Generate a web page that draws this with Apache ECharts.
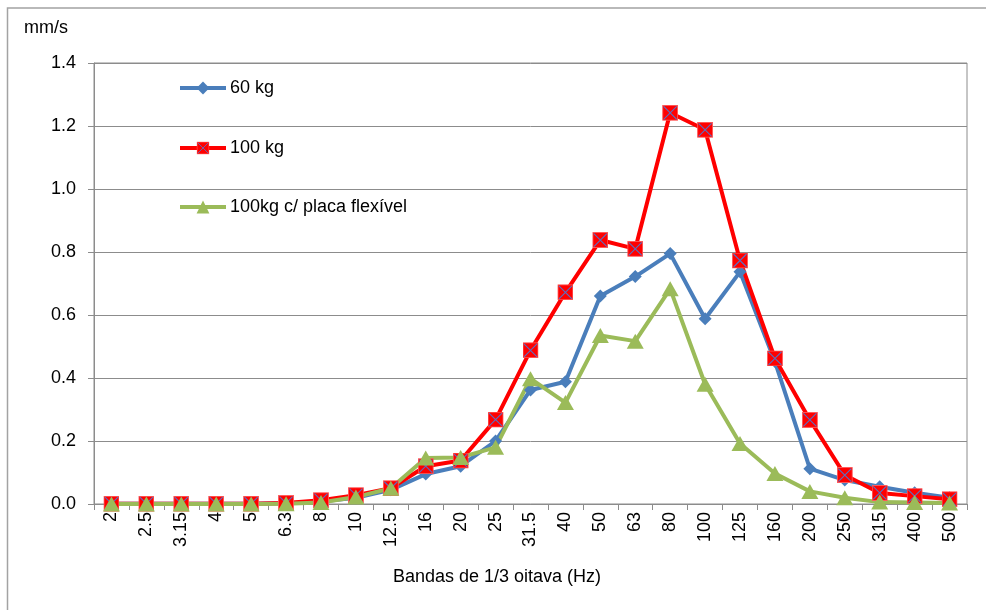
<!DOCTYPE html>
<html>
<head>
<meta charset="utf-8">
<script src="https://cdn.jsdelivr.net/npm/echarts@6/dist/echarts.min.js"></script>
<style>
  html, body { margin: 0; padding: 0; background: #ffffff; }
  #chart { width: 986px; height: 610px; }
</style>
</head>
<body>
<div id="chart"></div>
<script>
// 1/3-octave band centre frequencies (Hz)
const bands = ['2', '2.5', '3.15', '4', '5', '6.3', '8', '10', '12.5', '16', '20', '25', '31.5', '40', '50', '63', '80', '100', '125', '160', '200', '250', '315', '400', '500'];

// Vibration velocity (mm/s) per band
const vel60kg = [0.001, 0.001, 0.001, 0.001, 0.001, 0.002, 0.008, 0.02, 0.045, 0.095, 0.12, 0.2, 0.362, 0.388, 0.66, 0.722, 0.795, 0.588, 0.737, 0.452, 0.112, 0.076, 0.055, 0.036, 0.02];
const vel100kg = [0.001, 0.001, 0.001, 0.001, 0.001, 0.003, 0.012, 0.028, 0.05, 0.12, 0.138, 0.268, 0.488, 0.672, 0.838, 0.81, 1.242, 1.188, 0.773, 0.462, 0.267, 0.092, 0.035, 0.025, 0.015];
const vel100kgPlaca = [0, 0, 0, 0, 0, 0.001, 0.005, 0.022, 0.05, 0.146, 0.148, 0.18, 0.398, 0.322, 0.535, 0.517, 0.683, 0.38, 0.192, 0.097, 0.04, 0.02, 0.006, 0.005, 0.003];

const seriesNames = ['60 kg', '100 kg', '100kg c/ placa flexível'];
const yTicks = { min: 0, max: 1.4, step: 0.2 };

const FONT = "'Liberation Sans', Arial, sans-serif";
const GRID_GRAY = '#8c8c8c';
const LINE_W = 4;

// red square marker crossed by a thin blue X
const squareX = 'image://data:image/svg+xml;utf8,' + encodeURIComponent(
  '<svg xmlns="http://www.w3.org/2000/svg" width="32" height="32" viewBox="0 0 32 32">' +
  '<rect x="1" y="1" width="30" height="30" fill="#ff0000" stroke="#ff5a5a" stroke-width="2"/>' +
  '<path d="M3 3 L29 29 M29 3 L3 29" stroke="#5b6fc0" stroke-width="2.2"/>' +
  '</svg>');

const chart = echarts.init(document.getElementById('chart'), null, { renderer: 'canvas' });

function legendAt(name, top) {
  return {
    data: [name],
    left: 178,
    top: top,
    padding: 0,
    itemWidth: 46,
    itemHeight: 16,
    itemGap: 0,
    selectedMode: false,
    lineStyle: { width: LINE_W },
    textStyle: { fontFamily: FONT, fontSize: 18, color: '#000', padding: [0, 0, 0, -1], lineHeight: 16 }
  };
}

chart.setOption({
  animation: false,
  backgroundColor: '#ffffff',
  grid: {
    left: 94, right: 19, top: 63, bottom: 106,
    show: true, borderColor: GRID_GRAY, borderWidth: 1, backgroundColor: 'transparent'
  },
  legend: [
    legendAt(seriesNames[0], 79),
    legendAt(seriesNames[1], 139),
    legendAt(seriesNames[2], 198)
  ],
  graphic: [
    {
      type: 'rect', silent: true,
      shape: { x: 7.5, y: 8, width: 1000, height: 620 },
      style: { fill: 'none', stroke: '#a3a3a3', lineWidth: 1.5 }
    },
    {
      type: 'text', left: 24, top: 19,
      style: { text: 'mm/s', font: '18px ' + FONT, fill: '#000' }
    },
    {
      type: 'text', x: 497, y: 577,
      style: { text: 'Bandas de 1/3 oitava (Hz)', font: '18px ' + FONT, fill: '#000', align: 'center', verticalAlign: 'middle' }
    }
  ],
  xAxis: {
    type: 'category',
    data: bands,
    boundaryGap: true,
    axisLine: { lineStyle: { color: GRID_GRAY, width: 1 } },
    axisTick: { show: true, length: 6, lineStyle: { color: GRID_GRAY } },
    axisLabel: { rotate: 90, margin: 8, interval: 0, fontFamily: FONT, fontSize: 18, color: '#000' },
    splitLine: { show: false }
  },
  yAxis: {
    type: 'value',
    min: yTicks.min, max: yTicks.max, interval: yTicks.step,
    axisLine: { show: true, lineStyle: { color: GRID_GRAY, width: 1 } },
    axisTick: { show: true, length: 6, lineStyle: { color: GRID_GRAY } },
    axisLabel: { margin: 18, fontFamily: FONT, fontSize: 18, color: '#000', formatter: v => v.toFixed(1) },
    splitLine: { show: true, lineStyle: { color: GRID_GRAY, width: 1 } }
  },
  series: [
    {
      name: seriesNames[0], type: 'line', data: vel60kg,
      symbol: 'diamond', symbolSize: 13,
      lineStyle: { color: '#4a7ebb', width: LINE_W },
      itemStyle: { color: '#4a7ebb', borderColor: '#4a7ebb', borderWidth: 0 }
    },
    {
      name: seriesNames[1], type: 'line', data: vel100kg,
      symbol: squareX, symbolSize: 16,
      lineStyle: { color: '#ff0000', width: LINE_W },
      itemStyle: { color: '#ff0000' }
    },
    {
      name: seriesNames[2], type: 'line', data: vel100kgPlaca,
      symbol: 'triangle', symbolSize: [17, 15],
      lineStyle: { color: '#9bbb59', width: LINE_W },
      itemStyle: { color: '#9bbb59', borderWidth: 0 }
    }
  ]
});
</script>
</body>
</html>
